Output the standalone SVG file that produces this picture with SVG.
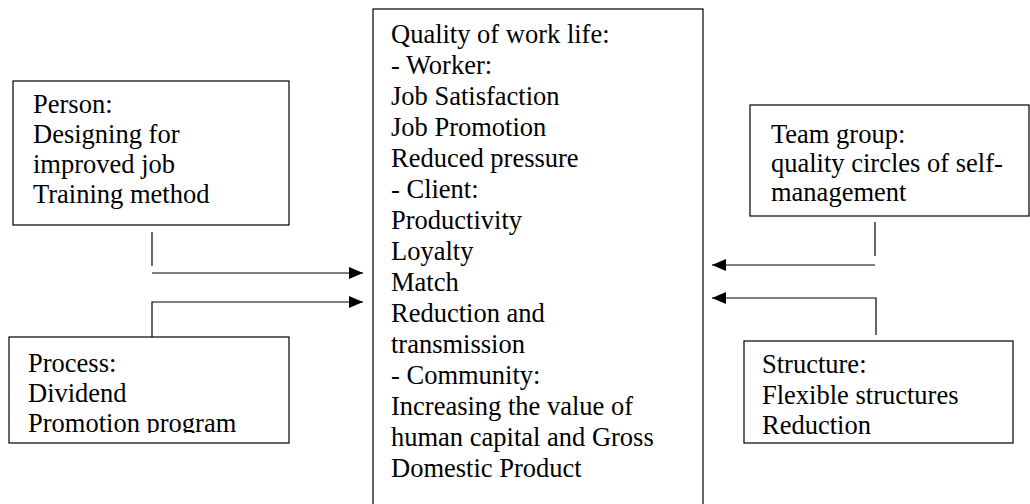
<svg xmlns="http://www.w3.org/2000/svg" width="1030" height="504" viewBox="0 0 1030 504">
<defs>
<style>
.box{fill:#fff;stroke:#000;stroke-width:1.2}
.t{font-family:"Liberation Serif","Times New Roman",serif;font-size:26.5px;fill:#000}
.c{fill:none;stroke:#000;stroke-width:1.2}
</style>
<marker id="ah" viewBox="0 0 14 12" refX="14" refY="6" markerWidth="14" markerHeight="12" markerUnits="userSpaceOnUse" orient="auto">
<path d="M0,0 L14,6 L0,12 Z" fill="#000"/>
</marker>
<clipPath id="pclip"><rect x="0" y="330" width="300" height="103"/></clipPath>
</defs>
<rect width="1030" height="504" fill="#fff"/>
<g id="center">
<rect class="box" x="373" y="9" width="330" height="510"/>
<text class="t" x="391" y="43">Quality of work life:</text>
<text class="t" x="391" y="74">- Worker:</text>
<text class="t" x="391" y="105">Job Satisfaction</text>
<text class="t" x="391" y="136">Job Promotion</text>
<text class="t" x="391" y="167">Reduced pressure</text>
<text class="t" x="391" y="198">- Client:</text>
<text class="t" x="391" y="229">Productivity</text>
<text class="t" x="391" y="260">Loyalty</text>
<text class="t" x="391" y="291">Match</text>
<text class="t" x="391" y="322">Reduction and</text>
<text class="t" x="391" y="353">transmission</text>
<text class="t" x="391" y="384">- Community:</text>
<text class="t" x="391" y="415">Increasing the value of</text>
<text class="t" x="391" y="446">human capital and Gross</text>
<text class="t" x="391" y="477">Domestic Product</text>
</g>
<g id="person">
<rect class="box" x="13" y="81" width="276" height="144"/>
<text class="t" x="33" y="113">Person:</text>
<text class="t" x="33" y="143">Designing for</text>
<text class="t" x="33" y="173">improved job</text>
<text class="t" x="33" y="203">Training method</text>
</g>
<g id="process">
<rect class="box" x="9" y="337" width="280" height="106"/>
<g clip-path="url(#pclip)">
<text class="t" x="28" y="372">Process:</text>
<text class="t" x="28" y="402">Dividend</text>
<text class="t" x="28" y="432">Promotion program</text>
</g>
</g>
<g id="team">
<rect class="box" x="750" y="105" width="279" height="111"/>
<text class="t" x="771" y="143">Team group:</text>
<text class="t" x="771" y="172">quality circles of self-</text>
<text class="t" x="771" y="201">management</text>
</g>
<g id="structure">
<rect class="box" x="744" y="341" width="269" height="102"/>
<text class="t" x="762" y="373">Structure:</text>
<text class="t" x="762" y="404">Flexible structures</text>
<text class="t" x="762" y="434">Reduction</text>
</g>
<g id="connectors">
<line class="c" x1="152" y1="232" x2="152" y2="266"/>
<line class="c" x1="152" y1="273" x2="363" y2="273" marker-end="url(#ah)"/>
<polyline class="c" points="152,337 152,302 363,302" marker-end="url(#ah)"/>
<line class="c" x1="875" y1="222" x2="875" y2="256"/>
<line class="c" x1="875" y1="265" x2="712" y2="265" marker-end="url(#ah)"/>
<polyline class="c" points="876,335 876,298 712,298" marker-end="url(#ah)"/>
</g>
</svg>
